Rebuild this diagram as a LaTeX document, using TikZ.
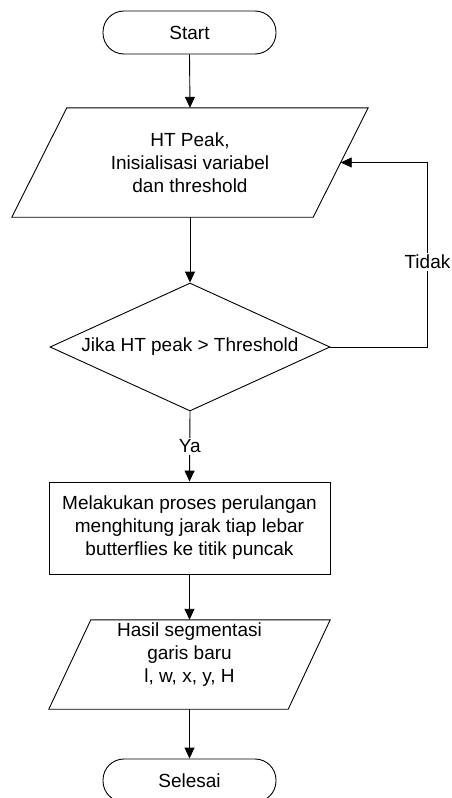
\documentclass[tikz,border=0pt]{standalone}
\usepackage{fontspec}
\setmainfont{Liberation Sans}
\usetikzlibrary{shapes.geometric,arrows.meta}
\begin{document}
\begin{tikzpicture}[x=1pt,y=-1pt,
 every node/.style={font=\fontsize{19}{23}\selectfont, align=center, inner sep=0pt},
 line/.style={line width=0.9pt, draw=black},
 arr/.style={line, -{Triangle[length=11pt,width=10pt]}},
 term/.style={draw, line width=0.9pt, rounded corners=21pt, minimum width=173pt, minimum height=43pt},
 procbox/.style={draw, line width=0.9pt, minimum width=281pt, minimum height=92pt},
 decision/.style={draw, line width=0.9pt, diamond, aspect=2.2, minimum width=280pt, minimum height=128pt},
 lbl/.style={fill=white, inner sep=2pt}
 ]
\fill[white] (0,0) rectangle (452,798);
\useasboundingbox (0,0) rectangle (452,798);

\node[term] (start) at (189.5,32.5) {Start};
\node[minimum width=301pt, minimum height=109pt] (p1) at (190,162.5) {HT Peak,\\Inisialisasi variabel\\dan threshold};
\draw[line] ([xshift=27.5pt]p1.north west) -- ([xshift=27.5pt]p1.north east) -- ([xshift=-27.5pt]p1.south east) -- ([xshift=-27.5pt]p1.south west) -- cycle;
\node[decision] (d) at (190,347) {Jika HT peak > Threshold};
\node[procbox] (box) at (189.5,528) {Melakukan proses perulangan\\menghitung jarak tiap lebar\\butterflies ke titik puncak};
\node[minimum width=239pt, minimum height=89pt] (p2) at (189.5,664.5) {};
\draw[line] ([xshift=21pt]p2.north west) -- ([xshift=21pt]p2.north east) -- ([xshift=-21pt]p2.south east) -- ([xshift=-21pt]p2.south west) -- cycle;
\node (p2t) at ([yshift=10pt]p2.center) {Hasil segmentasi\\garis baru\\l, w, x, y, H};
\node[term] (end) at (189.5,780.5) {Selesai};

\draw[arr] (start.south) -- (p1.north);
\draw[arr] (p1.south) -- (d.north);
\draw[arr] (d.south) -- node[lbl]{Ya} (box.north);
\draw[arr] (box.south) -- (p2.north);
\draw[arr] (p2.south) -- (end.north);
\draw[arr] (d.east) -- ++(97,0) |- node[lbl, pos=0.23]{Tidak} (p1.east);
\end{tikzpicture}
\end{document}
